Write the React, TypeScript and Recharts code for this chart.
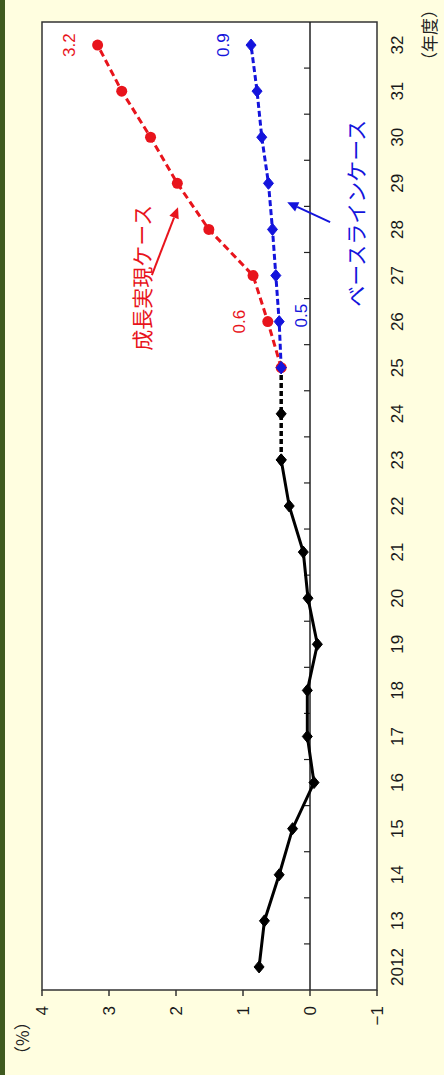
import { LineChart, Line, XAxis, YAxis, ReferenceLine, ReferenceArea, ReferenceDot, LabelList, CartesianGrid } from 'recharts';

// fiscal years (2012 .. 2032)
const years = ['2012', '13', '14', '15', '16', '17', '18', '19', '20', '21', '22', '23', '24', '25', '26', '27', '28', '29', '30', '31', '32'];
// actual (solid black)
const actual = [0.76, 0.68, 0.46, 0.26, -0.06, 0.04, 0.04, -0.11, 0.03, 0.1, 0.31, 0.43, null, null, null, null, null, null, null, null, null];
// estimate (dashed black)
const actualEst = [null, null, null, null, null, null, null, null, null, null, null, 0.43, 0.43, 0.43, null, null, null, null, null, null, null];
// 成長実現ケース
const growthCase = [null, null, null, null, null, null, null, null, null, null, null, null, null, 0.43, 0.63, 0.85, 1.51, 1.98, 2.38, 2.81, 3.17];
// ベースラインケース
const baselineCase = [null, null, null, null, null, null, null, null, null, null, null, null, null, 0.43, 0.46, 0.51, 0.56, 0.62, 0.72, 0.79, 0.88];

const valueTicks = [-1, 0, 1, 2, 3, 4];
const growthLabelYears = ['26', '32'];
const baselineLabelYears = ['26', '32'];

// each year sits in the middle of its slot
const data = years.map((year, i) => ({
  pos: i + 0.5,
  year,
  actual: actual[i],
  est: actualEst[i],
  growth: growthCase[i],
  base: baselineCase[i],
}));
const yearTicks = data.map((d) => d.pos);
// slot boundaries for the small ticks on the zero line
const boundaries = years.slice(1).map((_, i) => i + 1);

const RED = '#e8141c';
const BLUE = '#1414dc';
const FONT = "'Liberation Sans', Arial, 'Noto Sans CJK JP', sans-serif";
const JP = "'Noto Sans CJK JP', 'Liberation Sans', sans-serif";

const diamond = (color: string, h: number) => (p: any) => {
  const { cx, cy, value, index } = p;
  if (value == null || cx == null || cy == null) return <g key={`d${index}`} />;
  return (
    <polygon
      key={`d${index}`}
      points={`${cx - h},${cy} ${cx},${cy - h + 1} ${cx + h},${cy} ${cx},${cy + h - 1}`}
      fill={color}
      stroke={color}
      strokeWidth={1}
    />
  );
};

const circle = (color: string, r: number) => (p: any) => {
  const { cx, cy, value, index } = p;
  if (value == null || cx == null || cy == null) return <g key={`c${index}`} />;
  return <circle key={`c${index}`} cx={cx} cy={cy} r={r} fill={color} />;
};

const valueLabel = (color: string, show: string[], below: string[]) => (p: any) => {
  const { x, y, value, index } = p;
  if (value == null || !show.includes(years[index])) return null;
  const under = below.includes(years[index]);
  return (
    <text
      x={x + (under ? 6 : 0)}
      y={under ? y + 22 : y - 28}
      fill={color}
      fontSize={17}
      fontFamily={FONT}
      textAnchor="middle"
      dominantBaseline="central"
    >
      {Number(value).toFixed(1)}
    </text>
  );
};

const arrow = (color: string) => (p: any) => {
  const { x1, y1, x2, y2 } = p;
  const a = Math.atan2(y2 - y1, x2 - x1);
  const L = 11;
  const W = 5;
  const bx = x2 - L * Math.cos(a);
  const by = y2 - L * Math.sin(a);
  const nx = -Math.sin(a) * W;
  const ny = Math.cos(a) * W;
  return (
    <g>
      <line x1={x1} y1={y1} x2={bx} y2={by} stroke={color} strokeWidth={2} />
      <polygon points={`${x2},${y2} ${bx + nx},${by + ny} ${bx - nx},${by - ny}`} fill={color} />
    </g>
  );
};

const note = (text: string, color: string) => (p: any) => (
  <text x={p.cx} y={p.cy} fill={color} fontSize={21} fontFamily={JP} textAnchor="middle" dominantBaseline="central">
    {text}
  </text>
);

export default function App() {
  return (
    <div style={{ position: 'absolute', left: 0, top: 0, width: 444, height: 1075, overflow: 'hidden', background: '#fffee0' }}>
      <div
        style={{
          position: 'absolute',
          left: 0,
          top: 0,
          width: 1075,
          height: 444,
          transform: 'translate(0px, 1075px) rotate(-90deg)',
          transformOrigin: '0 0',
        }}
      >
        <LineChart width={1075} height={444} data={data} margin={{ top: 42, right: 22, bottom: 27, left: 35 }}>
          <CartesianGrid horizontal={false} vertical={false} fill="#fff" fillOpacity={1} />
          <XAxis
            dataKey="pos"
            type="number"
            domain={[0, 21]}
            allowDataOverflow
            ticks={yearTicks}
            tickFormatter={(v: number) => years[Math.floor(v)]}
            height={40}
            tickLine={false}
            axisLine={false}
            tickMargin={8}
            interval={0}
            tick={{ fill: '#1a1a1a', fontSize: 17, fontFamily: FONT }}
          />
          <YAxis
            domain={[-1, 4]}
            allowDataOverflow
            ticks={valueTicks}
            width={50}
            axisLine={false}
            tickSize={6}
            tickMargin={10}
            tickLine={{ stroke: '#333', strokeWidth: 1.5 }}
            tick={{ fill: '#1a1a1a', fontSize: 17, fontFamily: FONT }}
            tickFormatter={(v: number) => (v < 0 ? '\u2212' + Math.abs(v) : String(v))}
          />
          <ReferenceArea x1={0} x2={21} y1={-1} y2={4} ifOverflow="visible" fill="none" stroke="#333" strokeWidth={1.5} />
          <ReferenceLine y={0} stroke="#222" strokeWidth={1.5} />
          {boundaries.map((b) => (
            <ReferenceLine key={b} segment={[{ x: b, y: 0 }, { x: b, y: 0.09 }]} stroke="#222" strokeWidth={1.2} />
          ))}
          <ReferenceLine segment={[{ x: 15.51, y: 2.36 }, { x: 16.98, y: 1.97 }]} shape={arrow(RED)} />
          <ReferenceLine segment={[{ x: 16.66, y: -0.3 }, { x: 17.09, y: 0.34 }]} shape={arrow(BLUE)} />
          <ReferenceDot x={15.45} y={2.52} r={0} shape={note('成長実現ケース', RED)} />
          <ReferenceDot x={16.85} y={-0.67} r={0} shape={note('ベースラインケース', BLUE)} />
          <Line
            dataKey="actual"
            stroke="#000"
            strokeWidth={3}
            dot={diamond('#000', 6)}
            activeDot={false}
            isAnimationActive={false}
          />
          <Line
            dataKey="est"
            stroke="#000"
            strokeWidth={3.5}
            strokeDasharray="5 3"
            dot={diamond('#000', 6)}
            activeDot={false}
            isAnimationActive={false}
          />
          <Line
            dataKey="growth"
            stroke={RED}
            strokeWidth={3}
            strokeDasharray="7 4"
            dot={circle(RED, 5.5)}
            activeDot={false}
            isAnimationActive={false}
          >
            <LabelList dataKey="growth" content={valueLabel(RED, growthLabelYears, [])} />
          </Line>
          <Line
            dataKey="base"
            stroke={BLUE}
            strokeWidth={3}
            strokeDasharray="6 3"
            dot={diamond(BLUE, 6)}
            activeDot={false}
            isAnimationActive={false}
          >
            <LabelList dataKey="base" content={valueLabel(BLUE, baselineLabelYears, ['26'])} />
          </Line>
        </LineChart>
        <div style={{ position: 'absolute', left: 12, top: 9, fontSize: 17, lineHeight: '26px', fontFamily: JP, color: '#222' }}>（%）</div>
        <div style={{ position: 'absolute', right: 1, top: 416, fontSize: 17, lineHeight: '26px', fontFamily: JP, color: '#222' }}>（年度）</div>
      </div>
      <div style={{ position: 'absolute', left: 0, top: 0, width: 5, height: 1075, background: '#3f5a1f' }} />
    </div>
  );
}
